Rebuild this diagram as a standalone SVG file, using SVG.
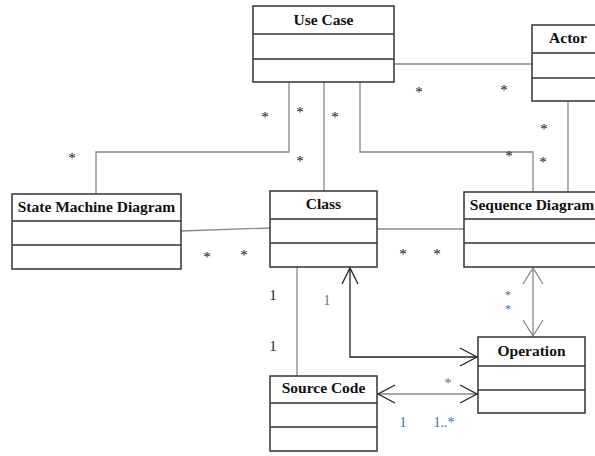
<svg xmlns="http://www.w3.org/2000/svg" width="595" height="456" viewBox="0 0 595 456">
<style>
.box{fill:#fff;stroke:#333;stroke-width:1.5}
.div{stroke:#333;stroke-width:1.5}
.t{font-family:"Liberation Serif","Times New Roman",serif;font-weight:bold;font-size:15.5px;fill:#111;text-anchor:middle}
.c{fill:none;stroke:#888;stroke-width:1.3}
.k{fill:none;stroke:#222;stroke-width:1.3}
.st{font-family:"Liberation Serif","Times New Roman",serif;font-size:15px;fill:#111122;text-anchor:middle}
.n{font-family:"Liberation Serif","Times New Roman",serif;font-size:14px;fill:#111;text-anchor:middle}
</style>
<rect width="595" height="456" fill="#fff"/>
<g id="connectors">
<line class="c" x1="394" y1="64" x2="532" y2="64"/>
<line class="c" x1="568" y1="101" x2="568" y2="192"/>
<polyline class="c" points="96,194 96,152 289,152 289,82"/>
<line class="c" x1="324" y1="82" x2="324" y2="191"/>
<polyline class="c" points="360,82 360,152 533,152 533,192"/>
<line class="c" x1="181" y1="231" x2="270" y2="228"/>
<line class="c" x1="377" y1="229" x2="464" y2="229"/>
<line class="c" x1="297" y1="267" x2="297" y2="376"/>
<line class="c" x1="533" y1="268" x2="533" y2="336"/>
<polyline class="c" points="523,284 533,268 543,284"/>
<polyline class="c" points="523,320 533,336 543,320"/>
<polyline class="k" points="350,268 350,357 477,357"/>
<polyline class="k" points="342,284 350,268 358,284"/>
<polyline class="k" points="460,348 477,357 460,366"/>
<line class="c" x1="378" y1="394" x2="477" y2="394"/>
<polyline class="k" points="395,385 378,394 395,403"/>
<polyline class="k" points="460,385 477,394 460,403"/>
</g>
<g id="labels">
<text class="st" x="72" y="163">*</text>
<text class="st" x="265" y="122">*</text>
<text class="st" x="300" y="117">*</text>
<text class="st" x="335" y="122">*</text>
<text class="st" x="300" y="166">*</text>
<text class="st" x="419" y="97">*</text>
<text class="st" x="504" y="95">*</text>
<text class="st" x="544" y="134">*</text>
<text class="st" x="509" y="161">*</text>
<text class="st" x="543" y="167">*</text>
<text class="st" x="207" y="262">*</text>
<text class="st" x="244" y="260">*</text>
<text class="st" x="403" y="259">*</text>
<text class="st" x="437" y="259">*</text>
<text class="st" x="508" y="299" style="fill:#8b5a3c;font-size:12px">*</text>
<text class="st" x="508" y="313" style="fill:#3a6ea5;font-size:12px">*</text>
<text class="st" x="448" y="388" style="fill:#7a6a80">*</text>
<text class="n" x="273" y="300">1</text>
<text class="n" x="273" y="351">1</text>
<text class="n" x="327" y="305" style="fill:#8a6a40">1</text>
<text class="n" x="403" y="427" style="fill:#3a6ea5">1</text>
<text class="n" x="444" y="427" style="fill:#3a6ea5">1..*</text>
</g>
<g id="use-case">
<rect class="box" x="253" y="6" width="141" height="76"/>
<line class="div" x1="253" y1="34" x2="394" y2="34"/>
<line class="div" x1="253" y1="59" x2="394" y2="59"/>
<text class="t" x="323.5" y="25">Use Case</text>
</g>
<g id="actor">
<rect class="box" x="532" y="25" width="72" height="76"/>
<line class="div" x1="532" y1="53" x2="604" y2="53"/>
<line class="div" x1="532" y1="78" x2="604" y2="78"/>
<text class="t" x="568" y="43">Actor</text>
</g>
<g id="state-machine-diagram">
<rect class="box" x="12" y="194" width="169" height="75"/>
<line class="div" x1="12" y1="221" x2="181" y2="221"/>
<line class="div" x1="12" y1="245" x2="181" y2="245"/>
<text class="t" x="96.5" y="212">State Machine Diagram</text>
</g>
<g id="class">
<rect class="box" x="270" y="191" width="107" height="76"/>
<line class="div" x1="270" y1="219" x2="377" y2="219"/>
<line class="div" x1="270" y1="243" x2="377" y2="243"/>
<text class="t" x="323.5" y="209">Class</text>
</g>
<g id="sequence-diagram">
<rect class="box" x="464" y="192" width="136" height="75"/>
<line class="div" x1="464" y1="219" x2="600" y2="219"/>
<line class="div" x1="464" y1="243" x2="600" y2="243"/>
<text class="t" x="532" y="210">Sequence Diagram</text>
</g>
<g id="operation">
<rect class="box" x="478" y="337" width="107" height="76"/>
<line class="div" x1="478" y1="366" x2="585" y2="366"/>
<line class="div" x1="478" y1="390" x2="585" y2="390"/>
<text class="t" x="531.5" y="356">Operation</text>
</g>
<g id="source-code">
<rect class="box" x="270" y="376" width="107" height="75"/>
<line class="div" x1="270" y1="403" x2="377" y2="403"/>
<line class="div" x1="270" y1="427" x2="377" y2="427"/>
<text class="t" x="323.5" y="393">Source Code</text>
</g>
</svg>
